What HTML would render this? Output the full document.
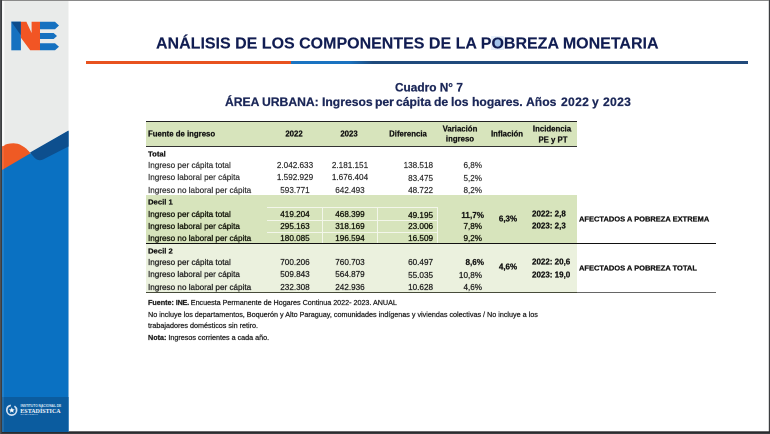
<!DOCTYPE html>
<html><head><meta charset="utf-8"><style>
html,body{margin:0;padding:0;}
body{width:770px;height:434px;position:relative;overflow:hidden;background:#3c3c3c;font-family:"Liberation Sans", sans-serif;}
.sv{position:absolute;left:0;top:0;}
.t{position:absolute;white-space:nowrap;transform:scale(0.5);transform-origin:0 0;will-change:transform;}
.r{position:absolute;}
</style></head><body>
<svg class="sv" width="770" height="434" viewBox="0 0 770 434">
<rect x="0" y="0" width="770" height="434" fill="#3b3d40"/>
<rect x="2" y="0" width="767" height="1" fill="#8a8a8a"/>
<rect x="2" y="431.3" width="768" height="1.3" fill="#202124"/>
<rect x="2" y="1" width="766.8" height="430.3" fill="#ffffff"/>
<rect x="0" y="0" width="1" height="434" fill="#4e5053"/>
<rect x="2" y="1" width="66.5" height="431" fill="#e9ebea"/>
<path d="M2,146.5 C5,144.2 9,143.2 13.5,143.2 C19,143.2 25,146.5 30,152.6 L31,156 L2,172 Z" fill="#ef5a24"/>
<path d="M2,170 L68.5,131 L68.5,432 L2,432 Z" fill="#0a71c2"/>
<path d="M30,152.6 L68.5,130.5 L68.5,146.5 L43,159.6 C39.5,161.2 36.5,160 34.5,157.8 Z" fill="#0d4f8e"/>
<rect x="2" y="397" width="66.5" height="35" fill="#0b5c9f"/>
<rect x="2.2" y="1" width="2.2" height="145" fill="#ffffff" opacity="0.75"/>
<rect x="2.2" y="146" width="1.6" height="286" fill="#ffffff" opacity="0.12"/>
<!-- logo -->
<rect x="11.3" y="21.7" width="9.6" height="28.6" fill="#1571c0"/>
<path d="M11.3,21.7 L20.9,21.7 L20.9,35.2 Z" fill="#0d4c8c"/>
<path d="M20.9,21.7 L26.4,21.7 L31.6,33 L31.6,21.7 L40,21.7 L40,50.3 L30.2,50.3 L20.9,37.8 Z" fill="#f25524"/>
<path d="M40,21.7 L55,21.7 L59,25.5 L55,29.2 L40,29.2 Z" fill="#1571c0"/>
<path d="M40,32.9 L53.6,32.9 L57,36 L53.6,39.1 L40,39.1 Z" fill="#1571c0"/>
<path d="M40,43.3 L55,43.3 L59,46.8 L55,50.3 L40,50.3 Z" fill="#1571c0"/>
<!-- INE emblem -->
<circle cx="11.7" cy="410.2" r="4.9" fill="none" stroke="#d3e2f3" stroke-width="1.7" stroke-dasharray="21.6 3.8 5.4 0"/>
<path d="M11.8,407.3 L12.6,409.3 L14.7,409.4 L13.1,410.7 L13.6,412.7 L11.8,411.5 L10,412.7 L10.5,410.7 L8.9,409.4 L11,409.3 Z" fill="#ffffff"/>
<text x="20.5" y="406.5" font-family="Liberation Sans" font-weight="bold" font-size="2.9" fill="#d6e4f3" textLength="40.8" lengthAdjust="spacingAndGlyphs">INSTITUTO NACIONAL DE</text>
<text x="20.3" y="412.9" font-family="Liberation Serif" font-weight="bold" font-size="6.4" fill="#eef4fa" textLength="40.3" lengthAdjust="spacingAndGlyphs">ESTADÍSTICA</text>
<text x="20.5" y="415.4" font-family="Liberation Sans" font-weight="bold" font-size="2.2" fill="#c4d7ec" textLength="17.5" lengthAdjust="spacingAndGlyphs">PARAGUAY</text>
</svg>
<div class="r" style="left:491.3px;top:36.3px;width:12.4px;height:13.4px;background:#e8f0fa;"></div>
<div class="r" style="left:493.3px;top:39px;width:7.6px;height:8.6px;border-radius:50%;background:#a2c3ea;z-index:0"></div>
<div class="t" style="top:34.86px;font-size:32.00px;line-height:32.00px;font-weight:700;color:#111d52;-webkit-text-stroke:0.3px #111d52;left:156px;">ANÁLISIS DE LOS COMPONENTES DE LA POBREZA MONETARIA</div>
<div class="r" style="left:85.8px;top:61px;width:205.5px;height:3px;background:#e8521f;"></div>
<div class="r" style="left:291.3px;top:61px;width:456.3px;height:3px;background:linear-gradient(90deg,#1a74c2 0px,#1a72c0 58px,#1f4a7c 82px,#214a7b 100%);"></div>
<div class="t" style="top:81.67px;font-size:23.70px;line-height:23.70px;font-weight:700;color:#1b2758;-webkit-text-stroke:0.5px #1b2758;left:394.5px;">Cuadro N° 7</div>
<div class="t" style="top:96.42px;font-size:24.30px;line-height:24.30px;font-weight:700;color:#1b2758;-webkit-text-stroke:0.5px #1b2758;left:224.70000000000002px;">ÁREA</div>
<div class="t" style="top:96.42px;font-size:24.30px;line-height:24.30px;font-weight:700;color:#1b2758;-webkit-text-stroke:0.5px #1b2758;left:262.2px;">URBANA:</div>
<div class="t" style="top:96.42px;font-size:24.30px;line-height:24.30px;font-weight:700;color:#1b2758;-webkit-text-stroke:0.5px #1b2758;left:321.9px;">Ingresos</div>
<div class="t" style="top:96.42px;font-size:24.30px;line-height:24.30px;font-weight:700;color:#1b2758;-webkit-text-stroke:0.5px #1b2758;left:374.59999999999997px;">per</div>
<div class="t" style="top:96.42px;font-size:24.30px;line-height:24.30px;font-weight:700;color:#1b2758;-webkit-text-stroke:0.5px #1b2758;left:395.9px;">cápita</div>
<div class="t" style="top:96.42px;font-size:24.30px;line-height:24.30px;font-weight:700;color:#1b2758;-webkit-text-stroke:0.5px #1b2758;left:434.4px;">de</div>
<div class="t" style="top:96.42px;font-size:24.30px;line-height:24.30px;font-weight:700;color:#1b2758;-webkit-text-stroke:0.5px #1b2758;left:450.79999999999995px;">los</div>
<div class="t" style="top:96.42px;font-size:24.30px;line-height:24.30px;font-weight:700;color:#1b2758;-webkit-text-stroke:0.5px #1b2758;left:471.9px;">hogares.</div>
<div class="t" style="top:96.42px;font-size:24.30px;line-height:24.30px;font-weight:700;color:#1b2758;-webkit-text-stroke:0.5px #1b2758;left:526.1999999999999px;">Años</div>
<div class="t" style="top:96.42px;font-size:24.30px;line-height:24.30px;font-weight:700;color:#1b2758;-webkit-text-stroke:0.5px #1b2758;letter-spacing:0.6px;left:561.1999999999999px;">2022</div>
<div class="t" style="top:96.42px;font-size:24.30px;line-height:24.30px;font-weight:700;color:#1b2758;-webkit-text-stroke:0.5px #1b2758;left:591.8px;">y</div>
<div class="t" style="top:96.42px;font-size:24.30px;line-height:24.30px;font-weight:700;color:#1b2758;-webkit-text-stroke:0.5px #1b2758;letter-spacing:0.6px;left:603.1999999999999px;">2023</div>
<div class="r" style="left:145.7px;top:121px;width:431.3px;height:1.4px;background:#222;"></div>
<div class="r" style="left:145.7px;top:122.4px;width:431.3px;height:23.4px;background:#d7e4bc;"></div>
<div class="r" style="left:145.7px;top:145.8px;width:431.3px;height:1.3px;background:#333;"></div>
<div class="t" style="top:130.00px;font-size:15.60px;line-height:15.60px;font-weight:700;color:#111;-webkit-text-stroke:0.5px #111;left:148.1px;">Fuente de ingreso</div>
<div class="t" style="top:130.00px;font-size:15.60px;line-height:15.60px;font-weight:700;color:#111;-webkit-text-stroke:0.5px #111;left:144.39999999999998px;width:600px;text-align:center;">2022</div>
<div class="t" style="top:130.00px;font-size:15.60px;line-height:15.60px;font-weight:700;color:#111;-webkit-text-stroke:0.5px #111;left:199.2px;width:600px;text-align:center;">2023</div>
<div class="t" style="top:130.00px;font-size:15.60px;line-height:15.60px;font-weight:700;color:#111;-webkit-text-stroke:0.5px #111;left:257.5px;width:600px;text-align:center;">Diferencia</div>
<div class="t" style="top:124.50px;font-size:15.60px;line-height:15.60px;font-weight:700;color:#111;-webkit-text-stroke:0.5px #111;left:310.3px;width:600px;text-align:center;">Variación</div>
<div class="t" style="top:135.00px;font-size:15.60px;line-height:15.60px;font-weight:700;color:#111;-webkit-text-stroke:0.5px #111;left:310.3px;width:600px;text-align:center;">ingreso</div>
<div class="t" style="top:129.90px;font-size:15.60px;line-height:15.60px;font-weight:700;color:#111;-webkit-text-stroke:0.5px #111;left:357.4px;width:600px;text-align:center;">Inflación</div>
<div class="t" style="top:124.50px;font-size:15.60px;line-height:15.60px;font-weight:700;color:#111;-webkit-text-stroke:0.5px #111;left:401.70000000000005px;width:600px;text-align:center;">Incidencia</div>
<div class="t" style="top:135.50px;font-size:15.60px;line-height:15.60px;font-weight:700;color:#111;-webkit-text-stroke:0.5px #111;left:403.20000000000005px;width:600px;text-align:center;">PE y PT</div>
<div class="r" style="left:145.7px;top:194.5px;width:431.3px;height:48.900000000000006px;background:#d7e4bc;"></div>
<div class="r" style="left:145.7px;top:243.4px;width:431.3px;height:48.599999999999994px;background:#ebf1de;"></div>
<div class="r" style="left:267.4px;top:207.2px;width:170.20000000000005px;height:1px;background:#f3f6ea;"></div>
<div class="r" style="left:267.4px;top:219.7px;width:170.20000000000005px;height:1px;background:#f3f6ea;"></div>
<div class="r" style="left:267.4px;top:231.6px;width:170.20000000000005px;height:1px;background:#f3f6ea;"></div>
<div class="r" style="left:321.6px;top:207.2px;width:1px;height:35.70000000000002px;background:#f3f6ea;"></div>
<div class="r" style="left:376.5px;top:207.2px;width:1px;height:35.70000000000002px;background:#f3f6ea;"></div>
<div class="r" style="left:436.7px;top:207.2px;width:1px;height:35.70000000000002px;background:#f3f6ea;"></div>
<div class="r" style="left:145.7px;top:242.5px;width:570.3px;height:1.5px;background:#111;"></div>
<div class="r" style="left:145.7px;top:291.6px;width:431.3px;height:1.3px;background:#474b3a;"></div>
<div class="r" style="left:577px;top:291.6px;width:139px;height:1.2px;background:#666;"></div>
<div class="t" style="top:149.78px;font-size:15.40px;line-height:15.40px;font-weight:700;color:#111;-webkit-text-stroke:0.45px #111;left:148.1px;">Total</div>
<div class="t" style="top:160.90px;font-size:16.30px;line-height:16.30px;font-weight:400;color:#2a2a2a;-webkit-text-stroke:0.35px #2a2a2a;left:148.1px;">Ingreso per cápita total</div>
<div class="t" style="top:160.90px;font-size:16.30px;line-height:16.30px;font-weight:400;color:#2a2a2a;-webkit-text-stroke:0.35px #2a2a2a;left:144.8px;width:600px;text-align:center;">2.042.633</div>
<div class="t" style="top:160.90px;font-size:16.30px;line-height:16.30px;font-weight:400;color:#2a2a2a;-webkit-text-stroke:0.35px #2a2a2a;left:199.7px;width:600px;text-align:center;">2.181.151</div>
<div class="t" style="top:161.20px;font-size:16.30px;line-height:16.30px;font-weight:400;color:#2a2a2a;-webkit-text-stroke:0.35px #2a2a2a;left:133.2px;width:600px;text-align:right;">138.518</div>
<div class="t" style="top:161.20px;font-size:16.30px;line-height:16.30px;font-weight:400;color:#2a2a2a;-webkit-text-stroke:0.35px #2a2a2a;left:182.2px;width:600px;text-align:right;">6,8%</div>
<div class="t" style="top:173.20px;font-size:16.30px;line-height:16.30px;font-weight:400;color:#2a2a2a;-webkit-text-stroke:0.35px #2a2a2a;left:148.1px;">Ingreso laboral per cápita</div>
<div class="t" style="top:173.20px;font-size:16.30px;line-height:16.30px;font-weight:400;color:#2a2a2a;-webkit-text-stroke:0.35px #2a2a2a;left:144.8px;width:600px;text-align:center;">1.592.929</div>
<div class="t" style="top:173.20px;font-size:16.30px;line-height:16.30px;font-weight:400;color:#2a2a2a;-webkit-text-stroke:0.35px #2a2a2a;left:199.7px;width:600px;text-align:center;">1.676.404</div>
<div class="t" style="top:173.50px;font-size:16.30px;line-height:16.30px;font-weight:400;color:#2a2a2a;-webkit-text-stroke:0.35px #2a2a2a;left:133.2px;width:600px;text-align:right;">83.475</div>
<div class="t" style="top:173.50px;font-size:16.30px;line-height:16.30px;font-weight:400;color:#2a2a2a;-webkit-text-stroke:0.35px #2a2a2a;left:182.2px;width:600px;text-align:right;">5,2%</div>
<div class="t" style="top:185.60px;font-size:16.30px;line-height:16.30px;font-weight:400;color:#2a2a2a;-webkit-text-stroke:0.35px #2a2a2a;left:148.1px;">Ingreso no laboral per cápita</div>
<div class="t" style="top:185.60px;font-size:16.30px;line-height:16.30px;font-weight:400;color:#2a2a2a;-webkit-text-stroke:0.35px #2a2a2a;left:144.8px;width:600px;text-align:center;">593.771</div>
<div class="t" style="top:185.60px;font-size:16.30px;line-height:16.30px;font-weight:400;color:#2a2a2a;-webkit-text-stroke:0.35px #2a2a2a;left:199.7px;width:600px;text-align:center;">642.493</div>
<div class="t" style="top:185.90px;font-size:16.30px;line-height:16.30px;font-weight:400;color:#2a2a2a;-webkit-text-stroke:0.35px #2a2a2a;left:133.2px;width:600px;text-align:right;">48.722</div>
<div class="t" style="top:185.90px;font-size:16.30px;line-height:16.30px;font-weight:400;color:#2a2a2a;-webkit-text-stroke:0.35px #2a2a2a;left:182.2px;width:600px;text-align:right;">8,2%</div>
<div class="t" style="top:198.08px;font-size:15.40px;line-height:15.40px;font-weight:700;color:#111;-webkit-text-stroke:0.45px #111;left:148.1px;">Decil 1</div>
<div class="t" style="top:210.30px;font-size:16.30px;line-height:16.30px;font-weight:400;color:#15170c;-webkit-text-stroke:0.65px #15170c;left:148.1px;">Ingreso per cápita total</div>
<div class="t" style="top:210.30px;font-size:16.30px;line-height:16.30px;font-weight:400;color:#15170c;-webkit-text-stroke:0.65px #15170c;left:144.8px;width:600px;text-align:center;">419.204</div>
<div class="t" style="top:210.30px;font-size:16.30px;line-height:16.30px;font-weight:400;color:#15170c;-webkit-text-stroke:0.65px #15170c;left:199.7px;width:600px;text-align:center;">468.399</div>
<div class="t" style="top:210.60px;font-size:16.30px;line-height:16.30px;font-weight:400;color:#15170c;-webkit-text-stroke:0.65px #15170c;left:133.2px;width:600px;text-align:right;">49.195</div>
<div class="t" style="top:210.60px;font-size:16.30px;line-height:16.30px;font-weight:700;color:#111;-webkit-text-stroke:0.4px #111;left:183.60000000000002px;width:600px;text-align:right;">11,7%</div>
<div class="t" style="top:222.15px;font-size:16.30px;line-height:16.30px;font-weight:400;color:#15170c;-webkit-text-stroke:0.65px #15170c;left:148.1px;">Ingreso laboral per cápita</div>
<div class="t" style="top:222.15px;font-size:16.30px;line-height:16.30px;font-weight:400;color:#15170c;-webkit-text-stroke:0.65px #15170c;left:144.8px;width:600px;text-align:center;">295.163</div>
<div class="t" style="top:222.15px;font-size:16.30px;line-height:16.30px;font-weight:400;color:#15170c;-webkit-text-stroke:0.65px #15170c;left:199.7px;width:600px;text-align:center;">318.169</div>
<div class="t" style="top:222.45px;font-size:16.30px;line-height:16.30px;font-weight:400;color:#15170c;-webkit-text-stroke:0.65px #15170c;left:133.2px;width:600px;text-align:right;">23.006</div>
<div class="t" style="top:222.45px;font-size:16.30px;line-height:16.30px;font-weight:400;color:#15170c;-webkit-text-stroke:0.65px #15170c;left:182.2px;width:600px;text-align:right;">7,8%</div>
<div class="t" style="top:233.90px;font-size:16.30px;line-height:16.30px;font-weight:400;color:#15170c;-webkit-text-stroke:0.65px #15170c;left:148.1px;">Ingreso no laboral per cápita</div>
<div class="t" style="top:233.90px;font-size:16.30px;line-height:16.30px;font-weight:400;color:#15170c;-webkit-text-stroke:0.65px #15170c;left:144.8px;width:600px;text-align:center;">180.085</div>
<div class="t" style="top:233.90px;font-size:16.30px;line-height:16.30px;font-weight:400;color:#15170c;-webkit-text-stroke:0.65px #15170c;left:199.7px;width:600px;text-align:center;">196.594</div>
<div class="t" style="top:234.20px;font-size:16.30px;line-height:16.30px;font-weight:400;color:#15170c;-webkit-text-stroke:0.65px #15170c;left:133.2px;width:600px;text-align:right;">16.509</div>
<div class="t" style="top:234.20px;font-size:16.30px;line-height:16.30px;font-weight:400;color:#15170c;-webkit-text-stroke:0.65px #15170c;left:182.2px;width:600px;text-align:right;">9,2%</div>
<div class="t" style="top:247.38px;font-size:15.40px;line-height:15.40px;font-weight:700;color:#111;-webkit-text-stroke:0.45px #111;left:148.1px;">Decil 2</div>
<div class="t" style="top:257.80px;font-size:16.30px;line-height:16.30px;font-weight:400;color:#222;-webkit-text-stroke:0.5px #222;left:148.1px;">Ingreso per cápita total</div>
<div class="t" style="top:257.80px;font-size:16.30px;line-height:16.30px;font-weight:400;color:#222;-webkit-text-stroke:0.5px #222;left:144.8px;width:600px;text-align:center;">700.206</div>
<div class="t" style="top:257.80px;font-size:16.30px;line-height:16.30px;font-weight:400;color:#222;-webkit-text-stroke:0.5px #222;left:199.7px;width:600px;text-align:center;">760.703</div>
<div class="t" style="top:258.10px;font-size:16.30px;line-height:16.30px;font-weight:400;color:#222;-webkit-text-stroke:0.5px #222;left:133.2px;width:600px;text-align:right;">60.497</div>
<div class="t" style="top:258.10px;font-size:16.30px;line-height:16.30px;font-weight:700;color:#111;-webkit-text-stroke:0.4px #111;left:183.60000000000002px;width:600px;text-align:right;">8,6%</div>
<div class="t" style="top:270.40px;font-size:16.30px;line-height:16.30px;font-weight:400;color:#222;-webkit-text-stroke:0.5px #222;left:148.1px;">Ingreso laboral per cápita</div>
<div class="t" style="top:270.40px;font-size:16.30px;line-height:16.30px;font-weight:400;color:#222;-webkit-text-stroke:0.5px #222;left:144.8px;width:600px;text-align:center;">509.843</div>
<div class="t" style="top:270.40px;font-size:16.30px;line-height:16.30px;font-weight:400;color:#222;-webkit-text-stroke:0.5px #222;left:199.7px;width:600px;text-align:center;">564.879</div>
<div class="t" style="top:270.70px;font-size:16.30px;line-height:16.30px;font-weight:400;color:#222;-webkit-text-stroke:0.5px #222;left:133.2px;width:600px;text-align:right;">55.035</div>
<div class="t" style="top:270.70px;font-size:16.30px;line-height:16.30px;font-weight:400;color:#222;-webkit-text-stroke:0.5px #222;left:182.2px;width:600px;text-align:right;">10,8%</div>
<div class="t" style="top:282.90px;font-size:16.30px;line-height:16.30px;font-weight:400;color:#222;-webkit-text-stroke:0.5px #222;left:148.1px;">Ingreso no laboral per cápita</div>
<div class="t" style="top:282.90px;font-size:16.30px;line-height:16.30px;font-weight:400;color:#222;-webkit-text-stroke:0.5px #222;left:144.8px;width:600px;text-align:center;">232.308</div>
<div class="t" style="top:282.90px;font-size:16.30px;line-height:16.30px;font-weight:400;color:#222;-webkit-text-stroke:0.5px #222;left:199.7px;width:600px;text-align:center;">242.936</div>
<div class="t" style="top:283.20px;font-size:16.30px;line-height:16.30px;font-weight:400;color:#222;-webkit-text-stroke:0.5px #222;left:133.2px;width:600px;text-align:right;">10.628</div>
<div class="t" style="top:283.20px;font-size:16.30px;line-height:16.30px;font-weight:400;color:#222;-webkit-text-stroke:0.5px #222;left:182.2px;width:600px;text-align:right;">4,6%</div>
<div class="t" style="top:214.83px;font-size:16.00px;line-height:16.00px;font-weight:700;color:#111;-webkit-text-stroke:0.5px #111;left:357.7px;width:600px;text-align:center;">6,3%</div>
<div class="t" style="top:210.43px;font-size:16.00px;line-height:16.00px;font-weight:700;color:#111;-webkit-text-stroke:0.5px #111;left:532.2px;">2022: 2,8</div>
<div class="t" style="top:222.28px;font-size:16.00px;line-height:16.00px;font-weight:700;color:#111;-webkit-text-stroke:0.5px #111;left:532.2px;">2023: 2,3</div>
<div class="t" style="top:263.23px;font-size:16.00px;line-height:16.00px;font-weight:700;color:#111;-webkit-text-stroke:0.5px #111;left:357.7px;width:600px;text-align:center;">4,6%</div>
<div class="t" style="top:257.93px;font-size:16.00px;line-height:16.00px;font-weight:700;color:#111;-webkit-text-stroke:0.5px #111;left:532.2px;">2022: 20,6</div>
<div class="t" style="top:270.53px;font-size:16.00px;line-height:16.00px;font-weight:700;color:#111;-webkit-text-stroke:0.5px #111;left:532.2px;">2023: 19,0</div>
<div class="t" style="top:214.85px;font-size:15.00px;line-height:15.00px;font-weight:700;color:#111;-webkit-text-stroke:0.5px #111;left:578.8px;">AFECTADOS A POBREZA EXTREMA</div>
<div class="t" style="top:263.75px;font-size:15.00px;line-height:15.00px;font-weight:700;color:#111;-webkit-text-stroke:0.5px #111;left:578.8px;">AFECTADOS A POBREZA TOTAL</div>
<div class="t" style="top:299.31px;font-size:14.40px;line-height:14.40px;font-weight:400;color:#222;-webkit-text-stroke:0.5px #222;letter-spacing:-0.04px;left:147.9px;"><b>Fuente: <span style="letter-spacing:-0.5px">INE.</span></b> Encuesta Permanente de Hogares Continua 2022- 2023. ANUAL</div>
<div class="t" style="top:311.01px;font-size:14.40px;line-height:14.40px;font-weight:400;color:#222;-webkit-text-stroke:0.5px #222;left:147.9px;">No incluye los departamentos, Boquerón y Alto Paraguay, comunidades indígenas y viviendas colectivas / No incluye a los</div>
<div class="t" style="top:322.11px;font-size:14.40px;line-height:14.40px;font-weight:400;color:#222;-webkit-text-stroke:0.5px #222;left:147.9px;">trabajadores domésticos sin retiro.</div>
<div class="t" style="top:333.61px;font-size:14.40px;line-height:14.40px;font-weight:400;color:#222;-webkit-text-stroke:0.5px #222;left:147.9px;"><b>Nota:</b> Ingresos corrientes a cada año.</div>
</body></html>
